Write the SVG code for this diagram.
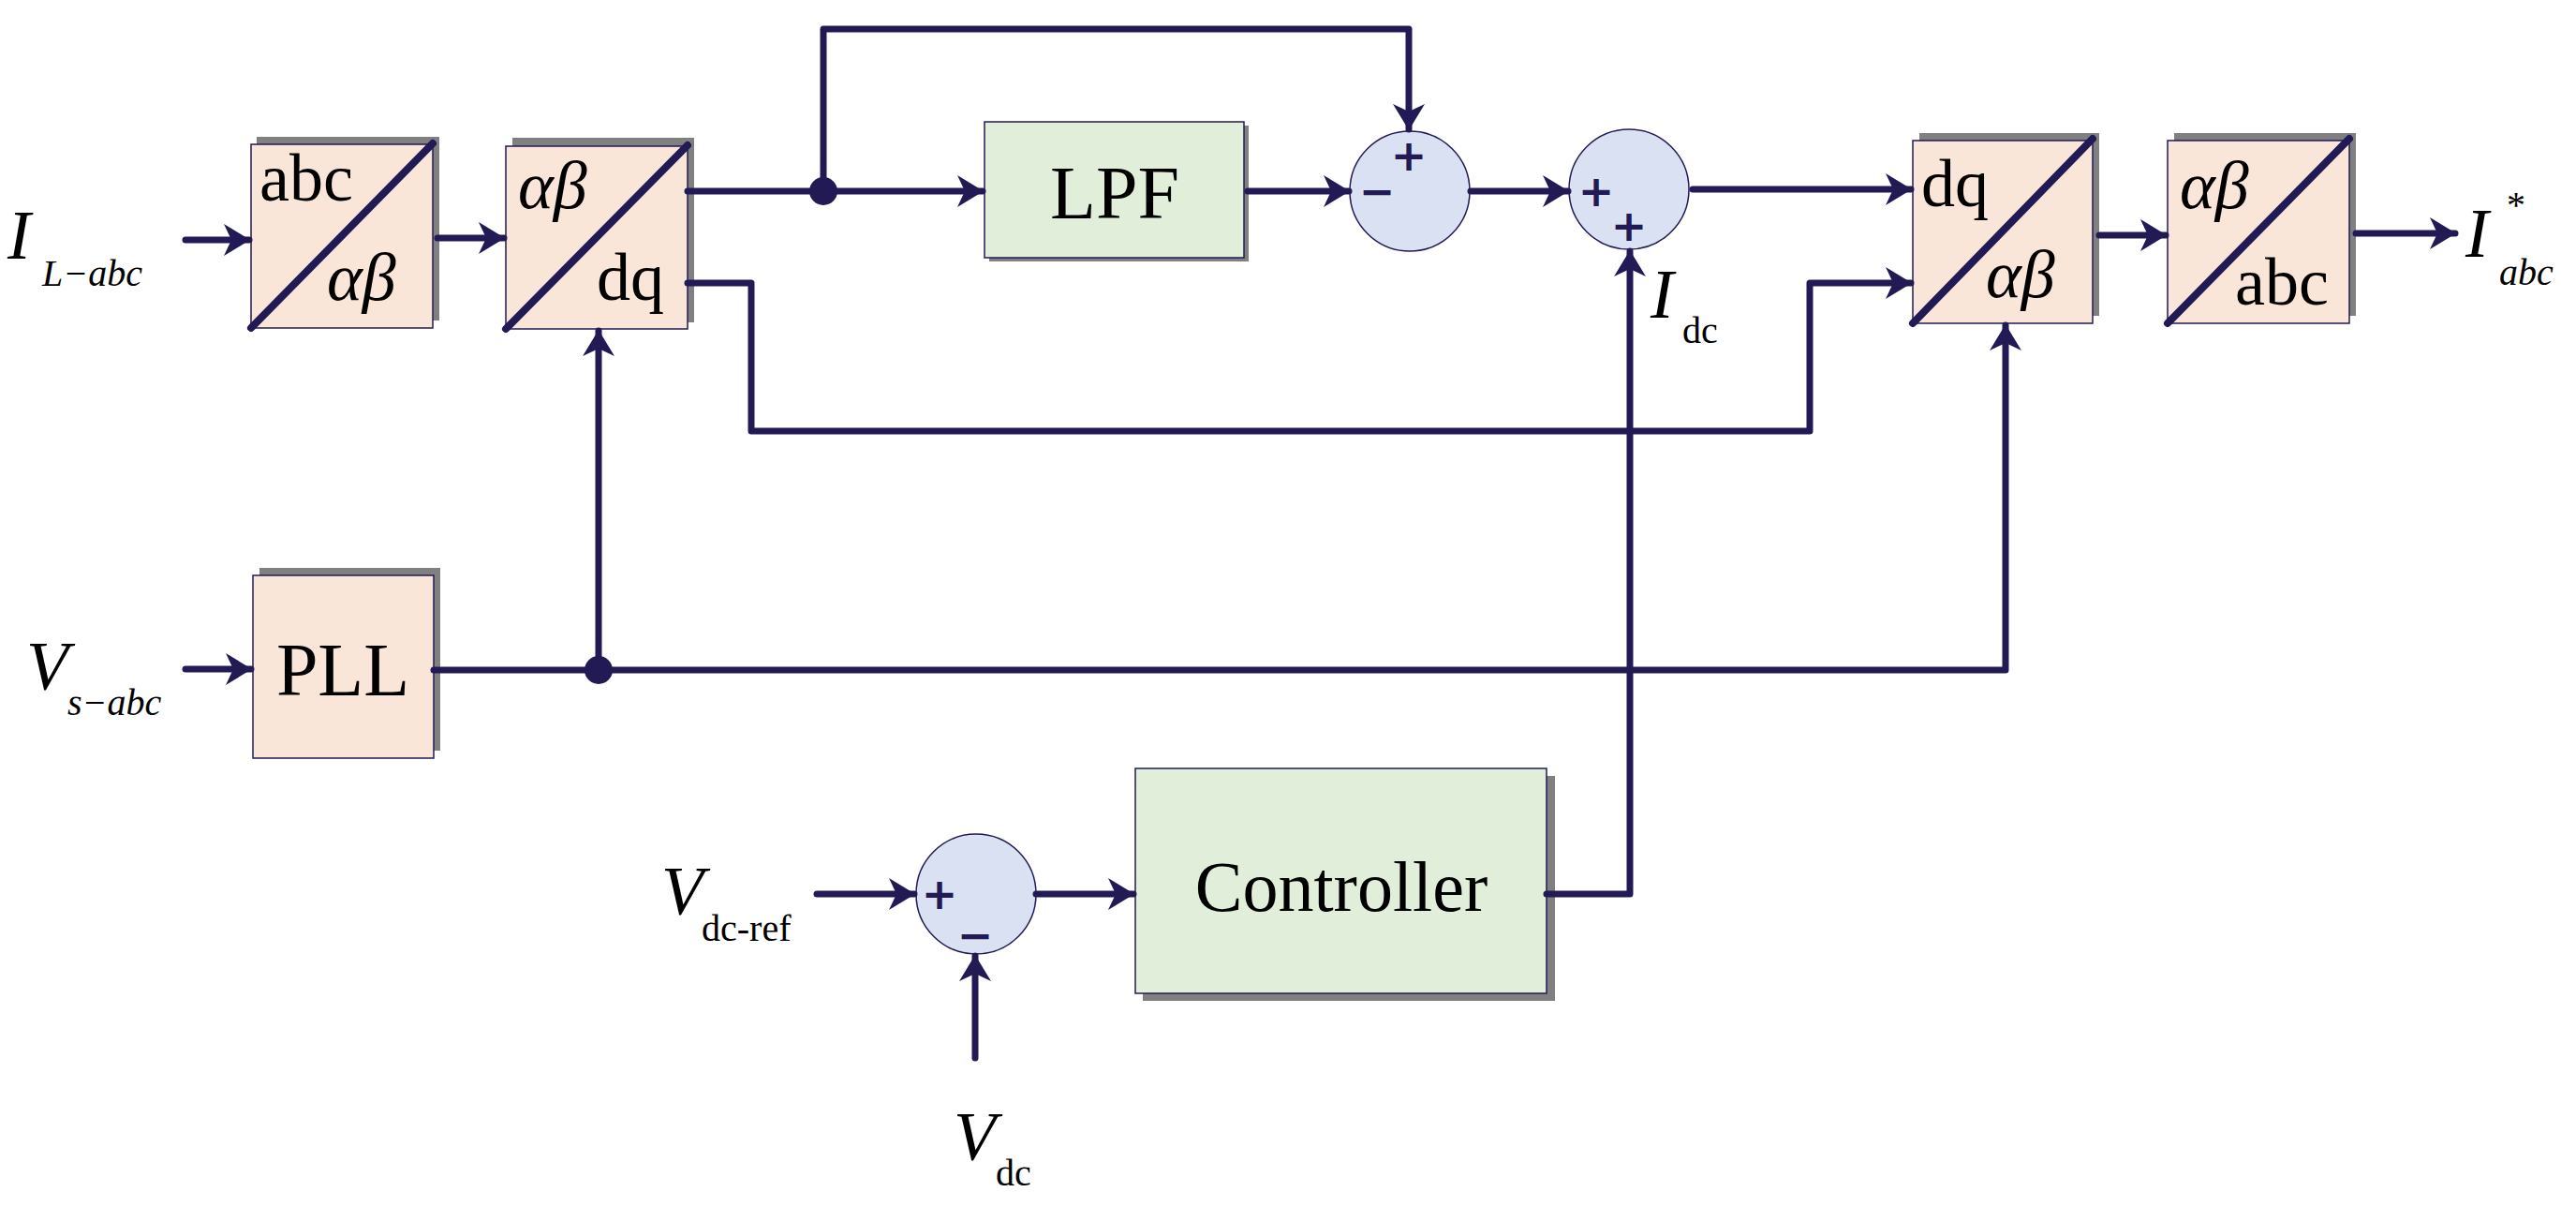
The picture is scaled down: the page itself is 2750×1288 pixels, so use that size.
<svg xmlns="http://www.w3.org/2000/svg" width="2750" height="1288" viewBox="0 0 2750 1288">
<style>
.ln{fill:none;stroke:#221a55;stroke-width:7;stroke-linecap:round;stroke-linejoin:round}
.pe{fill:#fae6d8;stroke:#221a55;stroke-width:1.5}
.gr{fill:#e1eed9;stroke:#221a55;stroke-width:1.5}
.sh{fill:#808080}
.sm{fill:#dae1f3;stroke:#221a55;stroke-width:1.5}
.dg{stroke:#221a55;stroke-width:8;stroke-linecap:round}
.t{font-family:"Liberation Serif",serif;fill:#000}
.i{font-style:italic}
.sg{font-family:"DejaVu Sans",sans-serif;font-weight:bold;font-size:46px;fill:#221a55;text-anchor:middle}
</style>
<defs>
<marker id="a" markerUnits="userSpaceOnUse" markerWidth="30" markerHeight="34" refX="27" refY="17" orient="auto">
<path d="M0,0 L28,17 L0,34 L8,17 z" fill="#221a55"/>
</marker>
</defs>
<g id="abc-ab">
<rect class="sh" x="274" y="146" width="195" height="196"/>
<rect class="pe" x="268" y="154" width="194" height="196"/>
<line class="dg" x1="268" y1="350" x2="462" y2="153"/>
<text class="t" x="277" y="214" font-size="72">abc</text>
<text class="t i" x="349" y="320" font-size="72">αβ</text>
</g>
<g id="ab-dq">
<rect class="sh" x="547" y="147" width="194" height="197"/>
<rect class="pe" x="540" y="156" width="194" height="195"/>
<line class="dg" x1="540" y1="351" x2="734" y2="155"/>
<text class="t i" x="553" y="222" font-size="72">αβ</text>
<text class="t" x="637" y="320" font-size="72">dq</text>
</g>
<g id="lpf">
<rect class="sh" x="1056" y="134" width="277" height="145"/>
<rect class="gr" x="1051" y="130" width="277" height="145"/>
<text class="t" x="1190" y="233" font-size="80" text-anchor="middle">LPF</text>
</g>
<g id="pll">
<rect class="sh" x="277" y="606" width="193" height="195"/>
<rect class="pe" x="270" y="614" width="193" height="195"/>
<text class="t" x="366" y="742" font-size="80" text-anchor="middle">PLL</text>
</g>
<g id="sum1">
<circle class="sm" cx="1505" cy="204" r="64"/>
<text class="sg" x="1504" y="182">+</text>
<text class="sg" x="1470" y="220">−</text>
</g>
<g id="sum2">
<circle class="sm" cx="1739" cy="202" r="64"/>
<text class="sg" x="1704" y="220">+</text>
<text class="sg" x="1739" y="257">+</text>
</g>
<g id="dq-ab">
<rect class="sh" x="2049" y="142" width="192" height="195"/>
<rect class="pe" x="2042" y="150" width="192" height="195"/>
<line class="dg" x1="2042" y1="345" x2="2234" y2="148"/>
<text class="t" x="2051" y="220" font-size="72">dq</text>
<text class="t i" x="2120" y="317" font-size="72">αβ</text>
</g>
<g id="ab-abc">
<rect class="sh" x="2321" y="142" width="194" height="195"/>
<rect class="pe" x="2314" y="150" width="194" height="195"/>
<line class="dg" x1="2314" y1="345" x2="2508" y2="148"/>
<text class="t i" x="2327" y="222" font-size="72">αβ</text>
<text class="t" x="2386" y="325" font-size="72">abc</text>
</g>
<g id="sum3">
<circle class="sm" cx="1042" cy="954" r="64"/>
<text class="sg" x="1003" y="970">+</text>
<text class="sg" x="1041" y="1014">−</text>
</g>
<g id="controller">
<rect class="sh" x="1220" y="828" width="440" height="240"/>
<rect class="gr" x="1212" y="820" width="439" height="240"/>
<text class="t" x="1432" y="972" font-size="76" text-anchor="middle">Controller</text>
</g>
<g id="labels">
<text class="t i" x="8" y="276" font-size="74">I</text>
<text class="t i" x="45" y="305" font-size="40">L−abc</text>
<text class="t i" x="28" y="736" font-size="74">V</text>
<text class="t i" x="72" y="763" font-size="40">s−abc</text>
<text class="t i" x="2632" y="274" font-size="74">I</text>
<text class="t" x="2676" y="232" font-size="40">*</text>
<text class="t i" x="2668" y="304" font-size="40">abc</text>
<text class="t i" x="1762" y="339" font-size="74">I</text>
<text class="t" x="1796" y="366" font-size="40">dc</text>
<text class="t i" x="706" y="976" font-size="74">V</text>
<text class="t" x="749" y="1004" font-size="40">dc-ref</text>
<text class="t i" x="1018" y="1238" font-size="74">V</text>
<text class="t" x="1063" y="1265" font-size="40">dc</text>
</g>
<g id="connectors">
<path class="ln" d="M198,256 H266" marker-end="url(#a)"/>
<path class="ln" d="M467,254 H538" marker-end="url(#a)"/>
<path class="ln" d="M734,204 H1049" marker-end="url(#a)"/>
<path class="ln" d="M879,204 V31 H1504 V138" marker-end="url(#a)"/>
<path class="ln" d="M1332,204 H1440" marker-end="url(#a)"/>
<path class="ln" d="M1570,204 H1674" marker-end="url(#a)"/>
<path class="ln" d="M1807,202 H2040" marker-end="url(#a)"/>
<path class="ln" d="M734,302 H802 V460 H1932 V302 H2040" marker-end="url(#a)"/>
<path class="ln" d="M198,714 H268" marker-end="url(#a)"/>
<path class="ln" d="M463,715 H2141 V347" marker-end="url(#a)"/>
<path class="ln" d="M639,715 V353" marker-end="url(#a)"/>
<path class="ln" d="M2241,251 H2312" marker-end="url(#a)"/>
<path class="ln" d="M2515,249 H2621" marker-end="url(#a)"/>
<path class="ln" d="M872,954 H976" marker-end="url(#a)"/>
<path class="ln" d="M1106,954 H1210" marker-end="url(#a)"/>
<path class="ln" d="M1041,1129 V1020" marker-end="url(#a)"/>
<path class="ln" d="M1651,954 H1740 V268" marker-end="url(#a)"/>
<circle cx="879" cy="204" r="15" fill="#221a55"/>
<circle cx="639" cy="715" r="15" fill="#221a55"/>
</g>
</svg>
